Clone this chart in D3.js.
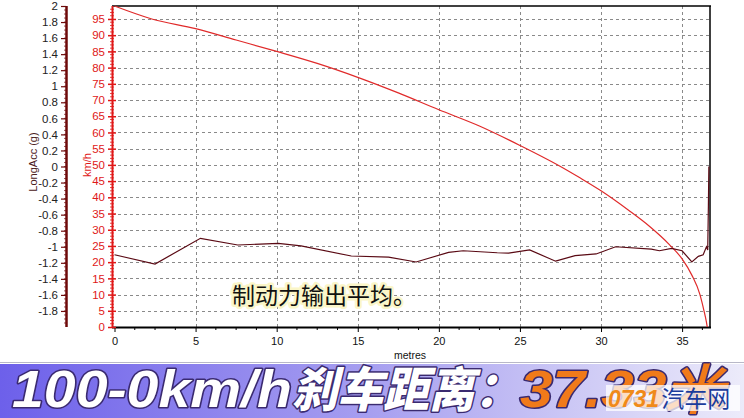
<!DOCTYPE html>
<html><head><meta charset="utf-8">
<script src="https://cdn.jsdelivr.net/npm/d3@7/dist/d3.min.js"></script>
<style>body{margin:0;background:#fff}svg{display:block}</style>
</head><body>
<svg id="c" width="744" height="418"></svg>
<script>
// ---- data ----
const speedDist = [0, 2.3, 5, 7.5, 10, 12.5, 15, 17.5, 20, 22.5, 25, 27.5, 28.7, 30, 31.7, 33, 34.2, 35, 35.6, 36.1, 36.35, 36.5, 36.55];
const speedVals = [99, 95, 92, 88.5, 85, 81.3, 77, 72.2, 67, 62, 56, 49.5, 46, 42, 36, 31, 25.5, 21, 16, 10, 5, 1.5, 0];
const accDist = [0, 2.5, 5.3, 7.6, 10.1, 11.5, 14.6, 16.9, 18.6, 20.6, 21.5, 23.6, 24.3, 25.6, 27.2, 28.4, 29.7, 30.9, 33.1, 33.6, 34.35, 35.0, 35.6, 36.0, 36.3, 36.5, 36.58, 36.62, 36.65];
const accVals = [-1.10, -1.215, -0.895, -0.978, -0.957, -0.99, -1.115, -1.13, -1.19, -1.07, -1.05, -1.075, -1.08, -1.04, -1.18, -1.11, -1.09, -1.0, -1.03, -1.05, -1.02, -1.05, -1.19, -1.12, -1.10, -1.0, -1.04, -0.5, 0.0];
const xTicks = [0, 5, 10, 15, 20, 25, 30, 35];
const speedTicks = [0, 5, 10, 15, 20, 25, 30, 35, 40, 45, 50, 55, 60, 65, 70, 75, 80, 85, 90, 95];
const accTicks = [-1.8, -1.6, -1.4, -1.2, -1, -0.8, -0.6, -0.4, -0.2, 0, 0.2, 0.4, 0.6, 0.8, 1, 1.2, 1.4, 1.6, 1.8, 2];
const annotation = "制动力输出平均。";
const titleParts = ["100-0km/h", "刹车距离：", "37.33米"];
const watermark = ["0731", "汽车网"];

// ---- layout ----
const svg = d3.select("#c");
const L = 112, R = 710, T = 6, B = 327;
const x = d3.scaleLinear().domain([0, 36.72]).range([114.5, 710]);
const yS = d3.scaleLinear().domain([0, 99]).range([B, T]);
const yA = d3.scaleLinear().domain([-2, 2]).range([B, T]);
const fmt = d => String(+(+d).toFixed(2));
const af = "Arial, 'Liberation Sans', sans-serif";

const grid = svg.append("g").attr("stroke", "#8a8a8a").attr("stroke-dasharray", "3,3").attr("stroke-width", 1);
speedTicks.filter(d => d > 0).forEach(d => {
  grid.append("line").attr("x1", L).attr("x2", R).attr("y1", Math.round(yS(d)) + 0.5).attr("y2", Math.round(yS(d)) + 0.5);
});
xTicks.filter(d => d > 0).forEach(d => {
  grid.append("line").attr("y1", T).attr("y2", B).attr("x1", Math.round(x(d)) + 0.5).attr("x2", Math.round(x(d)) + 0.5);
});

// frame
svg.append("line").attr("x1", L).attr("x2", R + 1).attr("y1", T).attr("y2", T).attr("stroke", "#000").attr("stroke-width", 1.5);
svg.append("line").attr("x1", R).attr("x2", R).attr("y1", T).attr("y2", B).attr("stroke", "#000").attr("stroke-width", 1.5);

// x axis
const xAxis = svg.append("g").attr("transform", `translate(0,${B})`)
  .call(d3.axisBottom(x).tickValues(xTicks).tickSize(5).tickPadding(5).tickFormat(fmt));
xAxis.select(".domain").attr("stroke", "#000").attr("stroke-width", 2).attr("d", `M${L},0.5H${R + 1}`);
xAxis.selectAll("text").attr("font-family", af).attr("font-size", 11).attr("fill", "#111");
xAxis.selectAll(".tick line").attr("stroke", "#000");
const minorX = d3.range(1.25, 36.7, 1.25).filter(v => Math.abs(v / 5 - Math.round(v / 5)) > 1e-6);
svg.append("g").selectAll("line").data(minorX).join("line")
  .attr("x1", d => x(d)).attr("x2", d => x(d)).attr("y1", B).attr("y2", B + 3).attr("stroke", "#000");
svg.append("text").attr("x", 410).attr("y", 359).attr("text-anchor", "middle")
  .attr("font-family", af).attr("font-size", 10.5).attr("fill", "#111").text("metres");

// speed axis (red)
const sAx = svg.append("g").attr("transform", `translate(${L},0)`)
  .call(d3.axisLeft(yS).tickValues(speedTicks).tickSize(4).tickPadding(3).tickFormat(fmt));
sAx.select(".domain").attr("stroke", "#e01818").attr("stroke-width", 2).attr("d", `M0.5,${T}V${B}`);
sAx.selectAll(".tick line").attr("stroke", "#e01818").attr("x1", 4).attr("x2", -4).attr("stroke-width", 1.5);
sAx.selectAll("text").attr("fill", "#e01818").attr("font-family", af).attr("font-size", 11.5);
svg.append("g").selectAll("line").data(d3.range(1, 99, 1).filter(v => v % 5)).join("line")
  .attr("x1", L - 2).attr("x2", L + 2).attr("y1", d => yS(d)).attr("y2", d => yS(d)).attr("stroke", "#e01818").attr("stroke-width", 0.8);
svg.append("text").attr("transform", `translate(91,165) rotate(-90)`).attr("text-anchor", "middle")
  .attr("font-family", af).attr("font-size", 11).attr("fill", "#e01818").text("km/h");

// acc axis (dark red)
const aX = 66;
const aAx = svg.append("g").attr("transform", `translate(${aX},0)`)
  .call(d3.axisLeft(yA).tickValues(accTicks).tickSize(5).tickPadding(3).tickFormat(fmt));
aAx.select(".domain").attr("stroke", "#6e0a0a").attr("stroke-width", 2.5).attr("d", `M0.5,${T}V${B}`);
aAx.selectAll(".tick line").attr("stroke", "#6e0a0a").attr("stroke-width", 1.2);
aAx.selectAll("text").attr("fill", "#222").attr("font-family", af).attr("font-size", 11.5);
svg.append("g").selectAll("line").data(d3.range(-1.95, 2, 0.05)).join("line")
  .attr("x1", aX - 2).attr("x2", aX + 1).attr("y1", d => yA(d)).attr("y2", d => yA(d)).attr("stroke", "#6e0a0a").attr("stroke-width", 0.7);
svg.append("text").attr("transform", `translate(37,162) rotate(-90)`).attr("text-anchor", "middle")
  .attr("font-family", af).attr("font-size", 11).attr("fill", "#4a2020").text("LongAcc (g)");

// series
const speedData = speedDist.map((d, i) => [d, speedVals[i]]);
const accData = accDist.map((d, i) => [d, accVals[i]]);
const lineS = d3.line().x(d => x(d[0])).y(d => yS(d[1])).curve(d3.curveMonotoneX);
const lineA = d3.line().x(d => x(d[0])).y(d => yA(d[1]));
svg.append("path").attr("d", lineS(speedData)).attr("fill", "none").attr("stroke", "#e02a2a").attr("stroke-width", 1.2);
svg.append("path").attr("d", lineA(accData)).attr("fill", "none").attr("stroke", "#5a0a14").attr("stroke-width", 1.2);

// annotation
svg.append("text").attr("x", 232).attr("y", 304)
  .attr("font-family", "'Noto Sans CJK SC', sans-serif").attr("font-size", 23).attr("fill", "#111")
  .attr("stroke", "#fbf6c8").attr("stroke-width", 5).attr("stroke-linejoin", "round").attr("paint-order", "stroke")
  .text(annotation);

// banner
const defs = svg.append("defs");
const gr = defs.append("linearGradient").attr("id", "bg").attr("x1", "0").attr("x2", "1");
gr.append("stop").attr("offset", "0").attr("stop-color", "#6d60ea");
gr.append("stop").attr("offset", "0.5").attr("stop-color", "#a79ff0");
gr.append("stop").attr("offset", "1").attr("stop-color", "#ecebfa");
svg.append("line").attr("x1", 0).attr("x2", 744).attr("y1", 362.5).attr("y2", 362.5).attr("stroke", "#b8b8c8");
svg.append("rect").attr("x", 0).attr("y", 364).attr("width", 744).attr("height", 54).attr("fill", "url(#bg)");

const tf = "'Liberation Sans', Arial, sans-serif";
const t1 = svg.append("text").attr("y", 407).attr("font-weight", "bold").attr("font-style", "italic")
  .attr("stroke", "#3a2a70").attr("stroke-width", 3).attr("paint-order", "stroke").attr("stroke-linejoin", "round");
t1.append("tspan").attr("x", 12).attr("font-family", tf).attr("font-size", 52).attr("fill", "#fff")
  .attr("textLength", 280).attr("lengthAdjust", "spacingAndGlyphs").text(titleParts[0]);
t1.append("tspan").attr("x", 292).attr("font-family", "'Noto Sans CJK SC', sans-serif").attr("font-weight", 900).attr("font-size", 48).attr("fill", "#fff")
  .attr("textLength", 228).attr("lengthAdjust", "spacingAndGlyphs").text(titleParts[1]);
t1.append("tspan").attr("x", 520).attr("font-family", tf).attr("font-size", 52).attr("fill", "#f07a1a")
  .attr("textLength", 205).attr("lengthAdjust", "spacingAndGlyphs").text(titleParts[2]);

// watermark
svg.append("rect").attr("x", 606).attr("y", 385).attr("width", 134).attr("height", 26).attr("fill", "#fff").attr("opacity", 0.75);
const wm = svg.append("text").attr("y", 407).attr("font-size", 23);
wm.append("tspan").attr("x", 608).attr("font-family", tf).attr("font-weight", "bold").attr("font-style", "italic").attr("fill", "#f08a1a").text(watermark[0]);
wm.append("tspan").attr("font-family", "'Noto Sans CJK SC', sans-serif").attr("fill", "#1a3c9c").attr("dx", 2).text(watermark[1]);
</script>
</body></html>
